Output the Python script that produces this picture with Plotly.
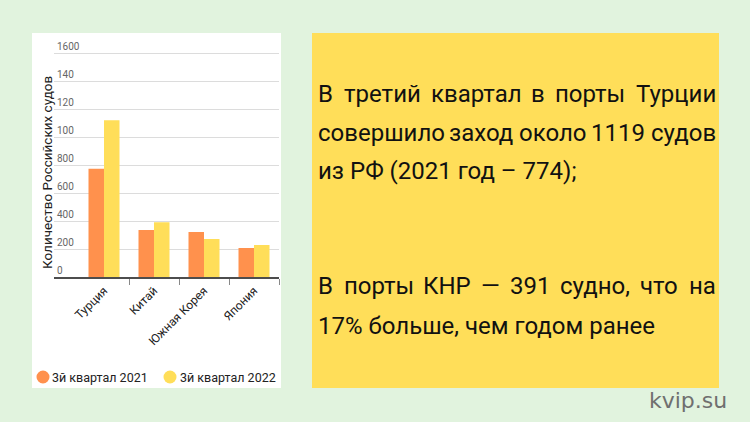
import plotly.graph_objects as go

# ---- data ----
categories = ["Турция", "Китай", "Южная Корея", "Япония"]
q3_2021 = [774, 336, 321, 207]
q3_2022 = [1119, 391, 271, 229]
series_names = ["3й квартал 2021", "3й квартал 2022"]
y_tick_values = [0, 200, 400, 600, 800, 1000, 1200, 1400, 1600]
y_tick_labels = ["0", "200", "400", "600", "800", "100", "120", "140", "1600"]
y_title = "Количество Российских судов"
para_justified = [
    "В третий квартал в порты Турции",
    "совершило заход около 1119 судов",
    "В порты КНР — 391 судно, что на",
]
para_plain = ["из РФ (2021 год – 774);", "17% больше, чем годом ранее"]

# ---- styles ----
W, H = 750, 422
BG = "#e1f3de"
ORANGE = "#ff914d"
YELLOW = "#ffde59"
FONT = "Roboto, Liberation Sans, sans-serif"


def px(x):
    return x / W


def py(y):
    return 1 - y / H


fig = go.Figure()
fig.add_trace(go.Bar(x=categories, y=q3_2021, name=series_names[0],
                     marker=dict(color=ORANGE, line=dict(width=0)), showlegend=False))
fig.add_trace(go.Bar(x=categories, y=q3_2022, name=series_names[1],
                     marker=dict(color=YELLOW, line=dict(width=0)), showlegend=False))

y_top = 1730
fig.update_layout(
    width=W, height=H, margin=dict(l=0, r=0, t=0, b=0),
    paper_bgcolor=BG, plot_bgcolor="rgba(0,0,0,0)",
    barmode="group", bargap=0.38, bargroupgap=0,
    xaxis=dict(domain=[px(54), px(279)], type="category", range=[-1, 3.5],
               showline=True, linecolor="#4d4d4d", linewidth=2,
               ticks="outside", tickson="boundaries", ticklen=6, tickcolor="#888",
               tickangle=-45, tickfont=dict(family=FONT, size=12, color="#222"),
               showgrid=False, fixedrange=True),
    yaxis=dict(domain=[py(277), py(277 - y_top * 0.14)], range=[0, y_top],
               tickvals=y_tick_values, ticktext=y_tick_labels,
               ticklabelposition="inside top", ticks="",
               tickfont=dict(family=FONT, size=10, color="#666"),
               showgrid=True, gridcolor="#dcdcdc", gridwidth=1,
               zeroline=False, showline=False, fixedrange=True),
    showlegend=False,
)

shapes = [
    dict(type="rect", xref="paper", yref="paper", x0=px(32), x1=px(281), y0=py(388), y1=py(33),
         fillcolor="white", line=dict(width=0), layer="below"),
    dict(type="rect", xref="paper", yref="paper", x0=px(312), x1=px(719), y0=py(388), y1=py(33),
         fillcolor=YELLOW, line=dict(width=0), layer="below"),
]
# legend circles
for cx, col in [(43, ORANGE), (170, YELLOW)]:
    shapes.append(dict(type="circle", xref="paper", yref="paper",
                       x0=px(cx - 6.5), x1=px(cx + 6.5), y0=py(377 + 6.5), y1=py(377 - 6.5),
                       fillcolor=col, line=dict(width=0)))
fig.update_layout(shapes=shapes)

ann = []
# y axis title
ann.append(dict(text=y_title, x=px(37), y=py(173), xref="paper", yref="paper",
                textangle=-90, showarrow=False, font=dict(family=FONT, size=13.5, color="#222")))
# legend texts
for tx, name in [(50, series_names[0]), (178, series_names[1])]:
    ann.append(dict(text=name, x=px(tx), y=py(377), xref="paper", yref="paper",
                    xanchor="left", yanchor="middle", showarrow=False,
                    font=dict(family=FONT, size=12.5, color="#222")))

# approximate Roboto advance widths (em) for justification
CW = {
    "в": .53, "е": .53, "р": .56, "с": .52, "о": .57, "а": .54, "у": .47, "х": .50, "т": .49,
    "и": .56, "й": .56, "к": .51, "л": .56, "ш": .76, "д": .58, "з": .50, "ц": .58, "ы": .72,
    "н": .56, "ч": .53, "г": .37, "м": .70, "ь": .51, "ю": .76, "б": .56,
    "В": .62, "Т": .60, "К": .62, "Н": .71, "Р": .63, ",": .20, "—": .80, " ": .25,
}


def text_w(s, size):
    return sum(CW.get(ch, .56) for ch in s) * size


FS = 24
LEFT, RIGHT = 316, 718
just_y = [94, 133, 286]
for yy, line in zip(just_y, para_justified):
    words = line.split(" ")
    widths = [text_w(w, FS) for w in words]
    gap = (RIGHT - LEFT - 6 - sum(widths)) / (len(words) - 1)
    xcur = LEFT + 3
    last = len(words) - 1
    for i, (w, ww) in enumerate(zip(words, widths)):
        if i == 0:
            xa, xx = "left", LEFT
        elif i == last:
            xa, xx = "right", RIGHT
        else:
            xa, xx = "center", xcur + ww / 2
        ann.append(dict(text=w, x=px(xx), y=py(yy), xref="paper", yref="paper",
                        xanchor=xa, yanchor="middle", showarrow=False,
                        font=dict(family=FONT, size=FS, color="#111")))
        xcur += ww + gap
plain_y = [171, 326]
for yy, t in zip(plain_y, para_plain):
    ann.append(dict(text=t, x=px(LEFT), y=py(yy), xref="paper", yref="paper",
                    xanchor="left", yanchor="middle", showarrow=False,
                    font=dict(family=FONT, size=FS, color="#111")))

ann.append(dict(text="kvip.su", x=px(688), y=py(400), xref="paper", yref="paper",
                xanchor="center", yanchor="middle", showarrow=False,
                font=dict(family="DejaVu Sans, sans-serif", size=22, color="#6f6f6f")))
fig.update_layout(annotations=ann)

fig.write_html("out.html", config={"displayModeBar": False},
               post_script="document.body.style.margin='0px';")
